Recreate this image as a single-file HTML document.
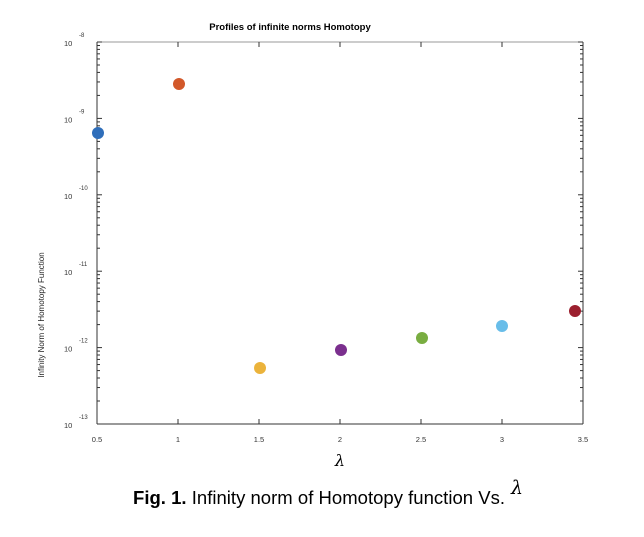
<!DOCTYPE html>
<html><head><style>body{margin:0;background:#fff}</style></head><body>
<svg width="644" height="532" xmlns="http://www.w3.org/2000/svg" font-family="Liberation Sans, sans-serif">
<rect width="644" height="532" fill="#fff"/>
<text x="290" y="30" font-size="9.5" font-weight="bold" text-anchor="middle">Profiles of infinite norms  Homotopy</text>
<g stroke="#333" stroke-width="1" fill="none">
<line x1="97" y1="42" x2="583" y2="42" stroke="#999"/>
<line x1="97" y1="424" x2="583" y2="424"/>
<line x1="97" y1="42" x2="97" y2="424"/>
<line x1="583" y1="42" x2="583" y2="424"/>
</g>
<g stroke="#333" stroke-width="1" id="ticks"></g>
<g font-size="7" fill="#333" id="labels"></g>
<text x="14" y="285" font-size="8" transform="rotate(-90 44 285)" text-anchor="middle" fill="#222">Infinity Norm of Homotopy Function</text>
<text x="340" y="466" font-size="16" font-style="italic" font-family="DejaVu Serif, serif" text-anchor="middle">λ</text>
<text x="133" y="504" font-size="18.5" fill="#000" textLength="372"><tspan font-weight="bold">Fig. 1.</tspan> Infinity norm of Homotopy function Vs.</text>
<text x="511" y="494" font-size="19" font-style="italic" font-family="DejaVu Serif, serif">λ</text>
<circle cx="98" cy="133" r="6" fill="#2f6eba"/>
<circle cx="179" cy="84" r="6" fill="#d2582a"/>
<circle cx="260" cy="368" r="6" fill="#ebb33b"/>
<circle cx="341" cy="350" r="6" fill="#7b2f8e"/>
<circle cx="422" cy="338" r="6" fill="#79ad41"/>
<circle cx="502" cy="326" r="6" fill="#68bde9"/>
<circle cx="575" cy="311" r="6" fill="#9b1f2e"/>
<script>
var t=document.getElementById('ticks'),L=document.getElementById('labels'),ns='http://www.w3.org/2000/svg';
function ln(a,b,c,d){var e=document.createElementNS(ns,'line');e.setAttribute('x1',a);e.setAttribute('y1',b);e.setAttribute('x2',c);e.setAttribute('y2',d);t.appendChild(e);}
function tx(x,y,s,sz,anc){var e=document.createElementNS(ns,'text');e.setAttribute('x',x);e.setAttribute('y',y);e.setAttribute('font-size',sz);if(anc)e.setAttribute('text-anchor',anc);e.textContent=s;L.appendChild(e);}
var dec=76.4;
for(var k=0;k<=5;k++){var y=42+k*dec;ln(97,y,102,y);ln(583,y,578,y);tx(64,y+4,'10',7.5);tx(79,y-5,'-'+(8+k),6);
 if(k<5)for(var m=2;m<=9;m++){var yy=42+(k+1)*dec-Math.log10(m)*dec;ln(97,yy,100,yy);ln(583,yy,580,yy);}}
for(var i=0;i<=6;i++){var x=97+i*81;if(i>0&&i<6){ln(x,424,x,419);ln(x,42,x,47);}tx(x,442,String(0.5+i*0.5),7.5,'middle');}
</script>
</svg>
</body></html>
